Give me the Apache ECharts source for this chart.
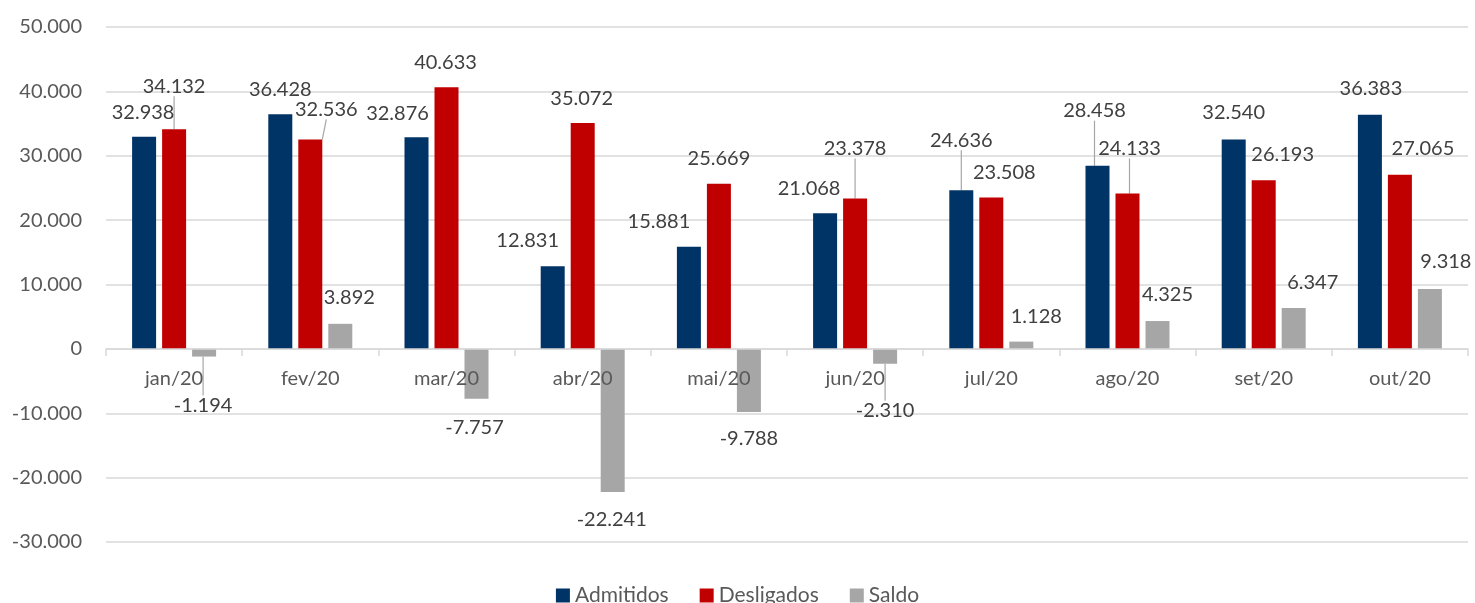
<!DOCTYPE html>
<html>
<head>
<meta charset="utf-8">
<script src="https://cdn.jsdelivr.net/npm/echarts@6/dist/echarts.min.js"></script>
<style>
html,body{margin:0;padding:0;background:#fff;}
#chart{width:1475px;height:603px;}
</style>
</head>
<body>
<div id="chart"></div>
<script>
const categories = ['jan/20','fev/20','mar/20','abr/20','mai/20','jun/20','jul/20','ago/20','set/20','out/20'];
const admitidos  = [32938, 36428, 32876, 12831, 15881, 21068, 24636, 28458, 32540, 36383];
const desligados = [34132, 32536, 40633, 35072, 25669, 23378, 23508, 24133, 26193, 27065];
const saldo      = [-1194, 3892, -7757, -22241, -9788, -2310, 1128, 4325, 6347, 9318];
const seriesNames = ['Admitidos', 'Desligados', 'Saldo'];
const yMin = -30000, yMax = 50000, yStep = 10000;

// label placement (px shifts from default end-of-bar position) and leader-line flags
const labelShift = [
  [[-1,-9],[0,-10],[-19,-9],[-25,-11],[-30,-10],[-16,-10],[0,-35],[-3,-40],[0,-12],[1,-11]],
  [[0,-28],[16,-15],[-1,-10],[-1,-10],[0,-10],[0,-35],[13,-10],[2,-30],[19,-11],[23,-11]],
  [[-1,34],[9,-11],[-2,14],[-1,12],[0,12],[0,32],[15,-10],[10,-11],[19,-10],[16,-12]]
];
const leader = [
  [0,0,0,0,0,0,1,1,0,0],
  [1,1,0,0,0,1,0,1,0,0],
  [1,0,0,0,0,1,0,0,0,0]
];
const colors = ['#003366', '#C00000', '#A6A6A6'];
const FONT = 'Lato, "Open Sans", sans-serif';

const GRID_TOP = 27, GRID_BOTTOM = 61, CHART_H = 603;
const plotH = CHART_H - GRID_TOP - GRID_BOTTOM;
// move the category axis (line + labels) up to the zero line
const zeroOffset = -Math.round((0 - yMin) / (yMax - yMin) * plotH);

function fmt(v) {
  const neg = v < 0;
  let s = Math.abs(Math.round(v)).toString();
  s = s.replace(/\B(?=(\d{3})+(?!\d))/g, '.');
  return (neg ? '-' : '') + s;
}

const allValues = [admitidos, desligados, saldo];

const series = allValues.map((vals, si) => ({
  name: seriesNames[si],
  type: 'bar',
  barWidth: 24,
  barGap: '25%',
  itemStyle: { color: colors[si] },
  label: {
    show: true,
    distance: 5,
    fontFamily: FONT,
    fontSize: 20,
    color: '#404040',
    formatter: p => fmt(p.value)
  },
  labelLine: { show: false, lineStyle: { color: '#A6A6A6', width: 1.2 } },
  labelLayout: function (params) {
    const sh = labelShift[params.seriesIndex][params.dataIndex];
    return { dx: sh[0], dy: sh[1] };
  },
  data: vals.map((v, di) => ({
    value: v,
    label: { position: v < 0 ? 'bottom' : 'top' },
    labelLine: { show: !!leader[si][di], lineStyle: { color: '#A6A6A6', width: 1.2 } }
  }))
}));

const chart = echarts.init(document.getElementById('chart'), null, { renderer: 'canvas' });
chart.setOption({
  animation: false,
  backgroundColor: '#ffffff',
  color: colors,
  grid: { left: 106, right: 7, top: GRID_TOP, bottom: GRID_BOTTOM, containLabel: false },
  legend: {
    data: seriesNames,
    bottom: -8,
    left: 'center',
    itemWidth: 14,
    itemHeight: 14,
    itemGap: 31,
    icon: 'rect',
    textStyle: { fontFamily: FONT, fontSize: 21, color: '#595959', padding: [0, 0, 0, 0] }
  },
  xAxis: {
    type: 'category',
    data: categories,
    position: 'bottom',
    offset: zeroOffset,
    z: 5,
    axisLine: { onZero: false, lineStyle: { color: '#D9D9D9', width: 1.5 } },
    axisTick: { show: true, length: 7, lineStyle: { color: '#D9D9D9', width: 1.5 } },
    axisLabel: { fontFamily: FONT, fontSize: 20, color: '#595959', margin: 20 }
  },
  yAxis: {
    type: 'value',
    min: yMin,
    max: yMax,
    interval: yStep,
    axisLine: { show: false },
    axisTick: { show: false },
    splitLine: { lineStyle: { color: '#D9D9D9', width: 1.5 } },
    axisLabel: { fontFamily: FONT, fontSize: 20, color: '#595959', margin: 24, formatter: v => fmt(v) }
  },
  series: series
});
</script>
</body>
</html>
